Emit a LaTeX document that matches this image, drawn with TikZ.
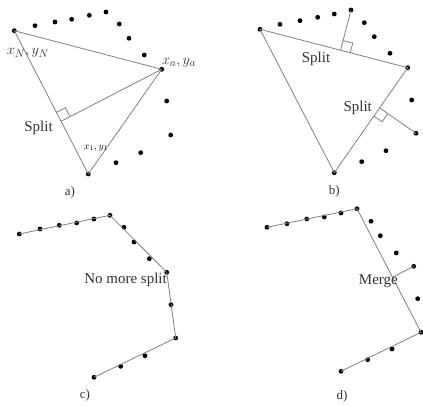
\documentclass[tikz,border=0pt]{standalone}
\usepackage{fontspec}
\setmainfont{Liberation Serif}
\usetikzlibrary{calc}
\begin{document}
\begin{tikzpicture}[x=1pt,y=-1pt,
  dot/.style={circle,fill=black,inner sep=0pt,minimum size=4.8pt},
  seg/.style={draw=black!50,line width=0.8pt},
  lbl/.style={inner sep=0pt,font=\fontsize{15}{18}\selectfont,text=black!80},
  panelcap/.style={inner sep=0pt,font=\fontsize{13}{15}\selectfont,text=black!80}]
\useasboundingbox (0,0) rectangle (423,406);
% ---------- panel a ----------
\node[dot] (aN) at (14.3,30.7) {};
\node[dot] (aA) at (161.7,69.3) {};
\node[dot] (a1) at (88.3,174) {};
\foreach \n/\x/\y in {d1/35/25.7,d2/55/22,d3/71.7/19.3,d4/89.3/15.3,d5/106/12,d6/119.3/24,d7/129/38.3,d8/144.3/55,d9/166.7/101,d10/170.7/135,d11/140.7/152.7,d12/116/162.7}
  \node[dot] (a\n) at (\x,\y) {};
\draw[seg] (aN.center) -- (aA.center) -- (a1.center) -- cycle;
\coordinate (aF) at ($(aN.center)!(aA.center)!(a1.center)$);
\draw[seg] (aA.center) -- (aF);
\coordinate (aU) at ($(aF)!10pt!(aN.center)$);
\coordinate (aV) at ($(aF)!10pt!(aA.center)$);
\draw[seg] (aU) -- ($(aU)+(aV)-(aF)$) -- (aV);
\node[lbl] (aLN) at (28,53) {$x_N, y_N$};
\node[lbl] (aLA) at (179,63) {$x_a, y_a$};
\node[lbl] (aS) at (38.5,128) {Split};
\node[inner sep=0pt,font=\fontsize{10}{12}\selectfont] (aL1) at (96,148) {$x_1, y_1$};
\node[panelcap] (capa) at (70,192) {a)};
% ---------- panel b ----------
\node[dot] (bN) at (260,29.3) {};
\node[dot] (bA) at (407.7,67.7) {};
\node[dot] (b1) at (334.3,172.7) {};
\node[dot] (bP) at (351,10) {};
\node[dot] (bQ) at (416,133.3) {};
\foreach \n/\x/\y in {d1/280/24.3,d2/300/20.7,d3/317.7/17.3,d4/334.3/14,d6/364.3/22.7,d7/374.3/36.7,d8/390/53.3,d9/411.7/100,d11/386/150.7,d12/361.7/161.7}
  \node[dot] (b\n) at (\x,\y) {};
\draw[seg] (bN.center) -- (bA.center) -- (b1.center) -- cycle;
\coordinate (bF) at ($(bN.center)!(bP.center)!(bA.center)$);
\draw[seg] (bP.center) -- (bF);
\coordinate (bU) at ($(bF)!10pt!(bA.center)$);
\coordinate (bV) at ($(bF)!10pt!(bP.center)$);
\draw[seg] (bU) -- ($(bU)+(bV)-(bF)$) -- (bV);
\coordinate (bG) at ($(b1.center)!(bQ.center)!(bA.center)$);
\draw[seg] (bQ.center) -- (bG);
\coordinate (bX) at ($(bG)!10pt!(b1.center)$);
\coordinate (bY) at ($(bG)!10pt!(bQ.center)$);
\draw[seg] (bX) -- ($(bX)+(bY)-(bG)$) -- (bY);
\node[lbl] (bS1) at (316,59.3) {Split};
\node[lbl] (bS2) at (357.7,108.3) {Split};
\node[panelcap] (capb) at (334.3,191.7) {b)};
% ---------- panel c ----------
\foreach \n/\x/\y in {1/19.3/234,2/40/229,3/59.3/225.3,4/76.7/223,5/94/219,6/110/215.3,7/124/227.3,8/134/242,9/149.3/258.7,10/166.7/272.3,11/171/304.7,12/175.7/338,13/145/355.7,14/120.7/366.3,15/94/377.3}
  \node[dot] (c\n) at (\x,\y) {};
\draw[seg] (c1.center) -- (c6.center) -- (c10.center) -- (c12.center) -- (c15.center);
\node[lbl,anchor=east] (cS) at (167,280) {No more split};
\node[panelcap] (capc) at (85,395.7) {c)};
% ---------- panel d ----------
\foreach \n/\x/\y in {1/267/227.3,2/287/223.7,3/306.7/219,4/324.3/217,5/341/213,6/357/208.7,7/371/221.3,8/380.3/235.7,9/396.3/253,10/413.7/266.3,11/417.7/298.7,12/421/332.3,13/392/349,14/367.7/359.7,15/341/371.3}
  \node[dot] (e\n) at (\x,\y) {};
\draw[seg] (e1.center) -- (e6.center) -- (e12.center) -- (e15.center);
\coordinate (eF) at ($(e6.center)!(e10.center)!(e12.center)$);
\draw[seg] (e10.center) -- (eF);
\node[lbl,anchor=east] (eS) at (398,281) {Merge};
\node[panelcap] (capd) at (342,396.3) {d)};
\end{tikzpicture}
\end{document}
